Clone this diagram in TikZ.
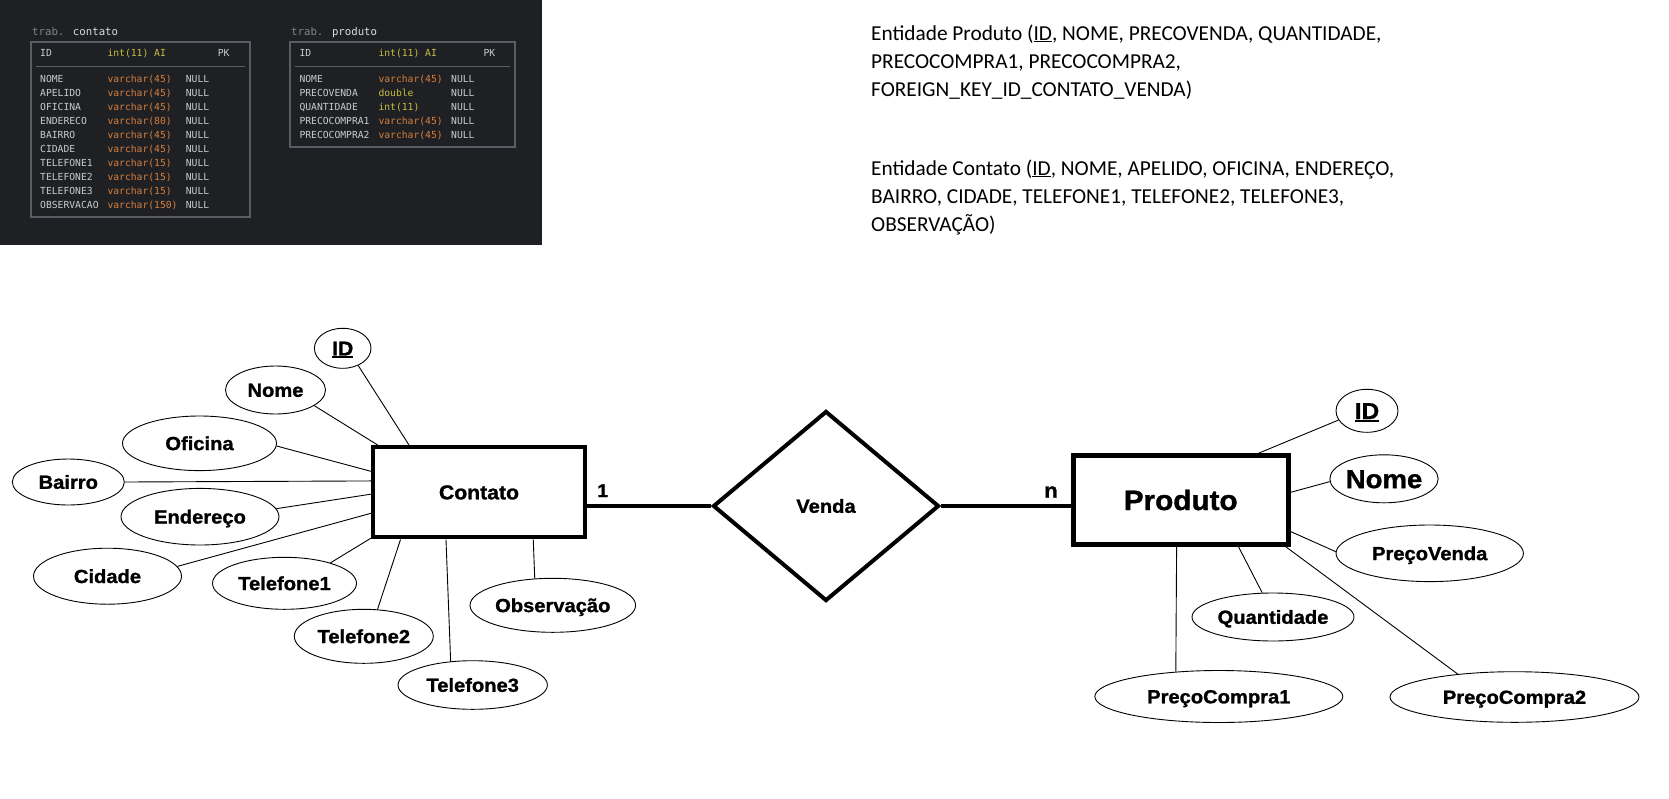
\documentclass[tikz,border=0pt]{standalone}
\usepackage{fontspec}
\usetikzlibrary{shapes.geometric,calc}
\setmainfont{Liberation Sans}
\newfontfamily\erfont[FakeStretch=1.06,FakeBold=1.2]{Liberation Sans}
\newfontfamily\monof{DejaVu Sans Mono}
\newfontfamily\calf{Carlito}
\definecolor{panelbg}{RGB}{31,32,36}
\definecolor{tborder}{RGB}{90,94,100}
\definecolor{ttitle}{RGB}{130,133,138}
\definecolor{ttitleb}{RGB}{222,222,222}
\definecolor{tname}{RGB}{200,203,207}
\definecolor{torange}{RGB}{214,128,60}
\definecolor{tyellow}{RGB}{200,190,64}
\newcommand\erul[3]{\setbox0\hbox{#3}\rlap{\rule[-#1]{\wd0}{#2}}\box0}
\begin{document}
\begin{tikzpicture}[x=1pt,y=-1pt,
  cell/.style={anchor=base west,inner sep=0pt,font=\monof\fontsize{9.7}{10}\selectfont},
  ttl/.style={anchor=base west,inner sep=0pt,font=\monof\fontsize{10.7}{11}\selectfont},
  para/.style={anchor=base west,inner sep=0pt,font=\calf\fontsize{21.3}{26}\selectfont},
  attr/.style={ellipse,draw,line width=0.9pt,inner sep=0pt,
    font=\erfont\bfseries\fontsize{19}{22}\selectfont,text height=13.6pt,text depth=0pt},
  ent/.style={rectangle,draw,line width=4.3pt,inner sep=0pt,text height=14pt,text depth=0pt},
  rel/.style={diamond,draw,line width=4pt,inner sep=0pt,
    font=\erfont\bfseries\fontsize{19}{22}\selectfont,text height=13.6pt,text depth=0pt},
  conn/.style={line width=0.9pt},
  thickconn/.style={line width=4.3pt},
  card/.style={inner sep=0pt,font=\erfont\bfseries\fontsize{18.5}{20}\selectfont}
]
\useasboundingbox (0,0) rectangle (1669,798);
\fill[white] (0,0) rectangle (1669,798);
% ---------- dark panel with tables ----------
\fill[panelbg] (0,0) rectangle (542,245);
\node[ttl] (tc) at (32,35.3) {\color{ttitle}trab. \color{ttitleb}contato};
\node[ttl] (tp) at (291,35.3) {\color{ttitle}trab. \color{ttitleb}produto};
\draw[tborder,line width=1.6pt] (30.7,41.7) rectangle (250,217);
\draw[tborder,line width=1pt] (36,66.3) -- (245,66.3);
\draw[tborder,line width=1.6pt] (290,41.7) rectangle (515,146.7);
\draw[tborder,line width=1pt] (295,66.3) -- (510,66.3);
\node[cell,tname] (chid) at (40,56.8) {ID};
\node[cell,tyellow] (chty) at (107.3,56.8) {int(11) AI};
\node[cell,tname] (chpk) at (217.7,56.8) {PK};
\foreach \nm/\ty [count=\i from 0] in {NOME/varchar(45),APELIDO/varchar(45),OFICINA/varchar(45),ENDERECO/varchar(80),BAIRRO/varchar(45),CIDADE/varchar(45),TELEFONE1/varchar(15),TELEFONE2/varchar(15),TELEFONE3/varchar(15),OBSERVACAO/varchar(150)}{
  \node[cell,tname] (cn\i) at (40,82.2+14*\i) {\nm};
  \node[cell,torange] (ct\i) at (107.3,82.2+14*\i) {\ty};
  \node[cell,tname] (cu\i) at (185.7,82.2+14*\i) {NULL};
}
\node[cell,tname] (phid) at (299.3,56.8) {ID};
\node[cell,tyellow] (phty) at (378.3,56.8) {int(11) AI};
\node[cell,tname] (phpk) at (483.3,56.8) {PK};
\foreach \nm/\ty/\cl [count=\i from 0] in {NOME/varchar(45)/torange,PRECOVENDA/double/tyellow,QUANTIDADE/int(11)/tyellow,PRECOCOMPRA1/varchar(45)/torange,PRECOCOMPRA2/varchar(45)/torange}{
  \node[cell,tname] (pn\i) at (299.3,82.2+14*\i) {\nm};
  \node[cell,\cl] (pt\i) at (378.3,82.2+14*\i) {\ty};
  \node[cell,tname] (pu\i) at (451,82.2+14*\i) {NULL};
}
% ---------- text on the right ----------
\node[para] (l1) at (871,40) {Entidade Produto (\underline{ID}, NOME, PRECOVENDA, QUANTIDADE,};
\node[para] (l2) at (871,68.6) {PRECOCOMPRA1, PRECOCOMPRA2,};
\node[para] (l3) at (871,96.3) {FOREIGN\_KEY\_ID\_CONTATO\_VENDA)};
\node[para] (l4) at (871,175.1) {Entidade Contato (\underline{ID}, NOME, APELIDO, OFICINA, ENDEREÇO,};
\node[para] (l5) at (871,203.8) {BAIRRO, CIDADE, TELEFONE1, TELEFONE2, TELEFONE3,};
\node[para] (l6) at (871,231.5) {OBSERVAÇÃO)};
% ---------- ER diagram ----------
\node[ent,minimum width=212pt,minimum height=90pt,
  font=\erfont\bfseries\fontsize{20}{22}\selectfont] (contato) at (479,492.3) {Contato};
\node[ent,line width=4.7pt,minimum width=215pt,minimum height=89pt,text height=20pt,
  font=\erfont\bfseries\fontsize{28}{30}\selectfont] (produto) at (1180.7,500) {Produto};
\node[rel,minimum width=226pt,minimum height=190pt] (venda) at (826,506) {Venda};
\draw[thickconn] (venda.west) -- (venda.west -| contato.east);
\draw[thickconn] (venda.east) -- (venda.east -| produto.west);
\node[card] (c1) at (602.7,490.7) {1};
\node[card,font=\erfont\bfseries\fontsize{21}{22}\selectfont] (cn) at (1051,492) {n};
% Contato attributes
\node[attr,minimum width=56.6pt,minimum height=40pt,font=\erfont\bfseries\fontsize{20}{22}\selectfont,text height=14.3pt] (id1) at (342.7,348.3) {\erul{2.6pt}{1.7pt}{ID}};
\node[attr,minimum width=100pt,minimum height=48pt] (nome1) at (275.5,390) {Nome};
\node[attr,minimum width=154pt,minimum height=54.6pt] (oficina) at (199.5,443.3) {Oficina};
\node[attr,minimum width=112pt,minimum height=46pt] (bairro) at (68.3,482) {Bairro};
\node[attr,minimum width=158pt,minimum height=56.6pt] (endereco) at (200,516.7) {Endereço};
\node[attr,minimum width=148pt,minimum height=56pt] (cidade) at (107.5,576.2) {Cidade};
\node[attr,minimum width=144pt,minimum height=52pt] (tel1) at (284.5,583.3) {Telefone1};
\node[attr,minimum width=139pt,minimum height=54pt] (tel2) at (363.8,636.3) {Telefone2};
\node[attr,minimum width=149.4pt,minimum height=48.6pt] (tel3) at (472.7,685) {Telefone3};
\node[attr,minimum width=165.6pt,minimum height=54pt] (obs) at (552.8,605.3) {Observação};
\draw[conn] (id1.312) -- (contato.146);
\draw[conn] (nome1.338) -- (contato.155);
\draw[conn] (oficina.358) -- (contato.169);
\draw[conn] (bairro.0) -- (contato.174);
\draw[conn] (endereco.6) -- (contato.181);
\draw[conn] (cidade.8) -- (contato.191);
\draw[conn] (tel1.24) -- (contato.203);
\draw[conn] (tel2.63) -- (contato.211);
\draw[conn] (tel3.133) -- (contato.235);
\draw[conn] (obs.124) -- (contato.319);
% Produto attributes
\node[attr,minimum width=62pt,minimum height=43pt,font=\erfont\bfseries\fontsize{23}{25}\selectfont,text height=16.5pt] (id2) at (1367,410.8) {\erul{3pt}{2.2pt}{ID}};
\node[attr,minimum width=94pt,minimum height=48pt,font=\erfont\bfseries\fontsize{26}{28}\selectfont,text height=18.6pt] (nome2) at (1384,478.8) {Nome};
\node[attr,minimum width=187.4pt,minimum height=56.6pt] (pv) at (1429.7,553.3) {PreçoVenda};
\node[attr,minimum width=162pt,minimum height=48pt] (qt) at (1273,617) {Quantidade};
\node[attr,minimum width=248pt,minimum height=52pt] (pc1) at (1218.8,696.5) {PreçoCompra1};
\node[attr,minimum width=249pt,minimum height=50.6pt] (pc2) at (1514.5,697) {PreçoCompra2};
\draw[conn] (id2.198) -- (produto.31);
\draw[conn] (nome2.183) -- (produto.4);
\draw[conn] (pv.179) -- (produto.344);
\draw[conn] (qt.114) -- (produto.321);
\draw[conn] (pc1.150) -- (produto.265);
\draw[conn] (pc2.158) -- (produto.336);
\end{tikzpicture}
\end{document}
